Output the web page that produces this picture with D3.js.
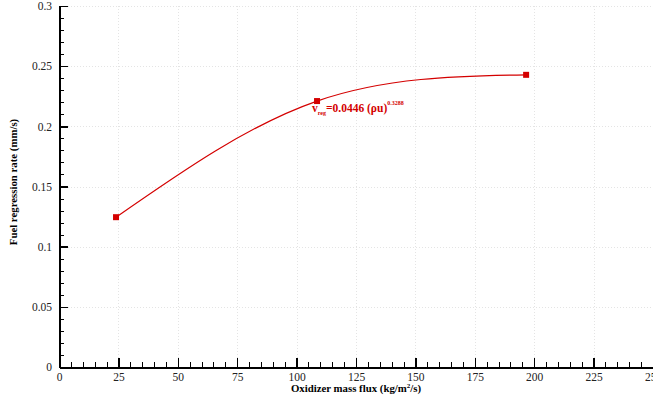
<!DOCTYPE html>
<html lang="en">
<head>
<meta charset="utf-8">
<title>Fuel regression rate</title>
<script src="https://cdn.jsdelivr.net/npm/d3@7"></script>
<style>
  body { margin: 0; background: #fff; }
  svg { display: block; font-family: "Liberation Serif", "Times New Roman", serif; }
  .axis path, .axis line { stroke: #000; shape-rendering: crispEdges; }
  .axis text { font-family: "Liberation Serif", "Times New Roman", serif; font-size: 11.5px; fill: #222; }
  .grid line { stroke: #e4e4e4; stroke-dasharray: 1,2; shape-rendering: crispEdges; }
</style>
</head>
<body>
<script>
// data
var massFlux = [24, 108.6, 196.6];
var regRate = [0.1245, 0.221, 0.2428];
var xTicks = [0, 25, 50, 75, 100, 125, 150, 175, 200, 225, 250];
var yTicks = [0, 0.05, 0.1, 0.15, 0.2, 0.25, 0.3];

var width = 653, height = 400;
var margin = {top: 6, right: 0, bottom: 33, left: 59};
var w = width - margin.left - margin.right;
var h = height - margin.top - margin.bottom;

var svg = d3.select("body").append("svg")
    .attr("width", width)
    .attr("height", height);

var g = svg.append("g")
    .attr("transform", "translate(" + margin.left + "," + margin.top + ")");

var x = d3.scaleLinear().domain([0, 250]).range([0, w]);
var y = d3.scaleLinear().domain([0, 0.3]).range([h, 0]);

// faint dotted grid
g.append("g").attr("class", "grid")
  .selectAll("line").data(xTicks.slice(1)).enter().append("line")
    .attr("x1", function(d) { return Math.round(x(d)) + 0.5; })
    .attr("x2", function(d) { return Math.round(x(d)) + 0.5; })
    .attr("y1", 0).attr("y2", h);
g.append("g").attr("class", "grid")
  .selectAll("line").data(yTicks.slice(1)).enter().append("line")
    .attr("y1", function(d) { return Math.round(y(d)) + 0.5; })
    .attr("y2", function(d) { return Math.round(y(d)) + 0.5; })
    .attr("x1", 0).attr("x2", w);

// minor ticks
var xMinor = d3.range(0, 251, 5);
var yMinor = d3.range(0, 31).map(function(d) { return d / 100; });

g.append("g").attr("class", "axis")
  .attr("transform", "translate(0," + h + ")")
  .call(d3.axisTop(x).tickValues(xMinor).tickSize(5).tickFormat(""))
  .call(function(s) { s.select(".domain").remove(); });

g.append("g").attr("class", "axis")
  .call(d3.axisRight(y).tickValues(yMinor).tickSize(5).tickFormat(""))
  .call(function(s) { s.select(".domain").remove(); });

// major ticks (pointing inside), labels outside
var xAxis = g.append("g").attr("class", "axis")
  .attr("transform", "translate(0," + h + ")")
  .call(d3.axisTop(x).tickValues(xTicks).tickSize(9).tickSizeOuter(0).tickFormat(d3.format("d")));
xAxis.selectAll("text").attr("y", 14).attr("dy", 0).attr("dominant-baseline", "auto");
xAxis.select(".domain").attr("stroke-width", 2);
xAxis.selectAll(".tick line").attr("stroke-width", 1.5);

var yAxis = g.append("g").attr("class", "axis")
  .call(d3.axisRight(y).tickValues(yTicks).tickSize(9).tickSizeOuter(0).tickFormat(function(d) { return d3.format("")(+d.toFixed(2)); }));
yAxis.selectAll("text").attr("x", -7).attr("text-anchor", "end").attr("dy", "0.32em");
yAxis.select(".domain").attr("stroke-width", 2);
yAxis.selectAll(".tick line").attr("stroke-width", 1.5);

// curve
var pts = massFlux.map(function(d, i) { return [d, regRate[i]]; });
var line = d3.line()
  .x(function(d) { return x(d[0]); })
  .y(function(d) { return y(d[1]); })
  .curve(d3.curveNatural);

g.append("path")
  .datum(pts)
  .attr("fill", "none")
  .attr("stroke", "#d40000")
  .attr("stroke-width", 1.2)
  .attr("d", line);

g.selectAll("rect.pt").data(pts).enter().append("rect")
  .attr("class", "pt")
  .attr("x", function(d) { return x(d[0]) - 3; })
  .attr("y", function(d) { return y(d[1]) - 3; })
  .attr("width", 6).attr("height", 6)
  .attr("fill", "#d40000");

// correlation label
var lbl = svg.append("text")
  .attr("x", 312).attr("y", 112)
  .attr("fill", "#d40000")
  .attr("font-weight", "bold")
  .attr("font-size", 11.5);
lbl.append("tspan").text("v");
lbl.append("tspan").attr("font-size", 6).attr("dy", 3).text("reg");
lbl.append("tspan").attr("dy", -3).text("=0.0446 (ρu)");
lbl.append("tspan").attr("font-size", 6).attr("dy", -7).text("0.3288");

// axis titles
var xt = svg.append("text")
  .attr("x", 356).attr("y", 392)
  .attr("text-anchor", "middle")
  .attr("font-weight", "bold")
  .attr("font-size", 10.8);
xt.append("tspan").text("Oxidizer mass flux (kg/m");
xt.append("tspan").attr("font-size", 7).attr("dy", -4).text("2");
xt.append("tspan").attr("dy", 4).text("/s)");

svg.append("text")
  .attr("transform", "translate(17,182) rotate(-90)")
  .attr("text-anchor", "middle")
  .attr("font-weight", "bold")
  .attr("font-size", 10.8)
  .text("Fuel regression rate (mm/s)");
</script>
</body>
</html>
